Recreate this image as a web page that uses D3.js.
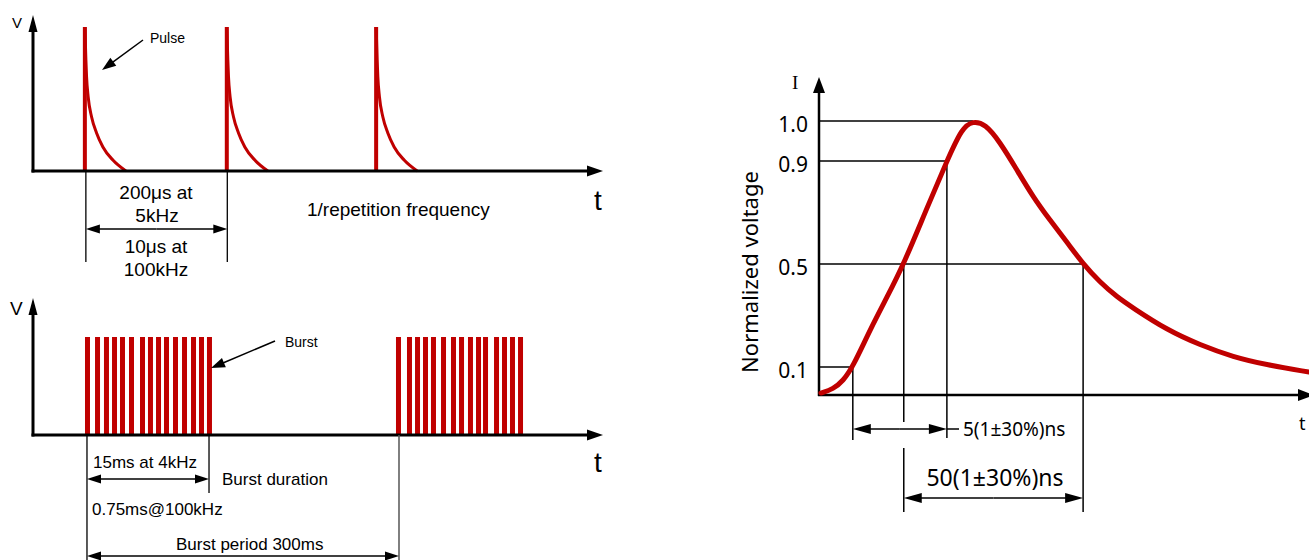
<!DOCTYPE html>
<html>
<head>
<meta charset="utf-8">
<script src="https://cdn.jsdelivr.net/npm/d3@7/dist/d3.min.js"></script>
<style>
  body { margin: 0; background: #fff; }
  text { fill: #000; }
</style>
</head>
<body>
<svg id="chart" width="1309" height="560"></svg>
<script>
// ---- data (arbitrary time units, voltages normalized 0..1) ----
// top panel: repetitive pulses
const pulseStarts = [9.1, 34.0, 60.2];
const pulseTailT = [0, 0.18, 0.30, 0.58, 1.18, 2.05, 3.16, 4.91, 7.2];
const pulseTailV = [1, 0.771, 0.653, 0.514, 0.375, 0.264, 0.167, 0.076, 0];

// bottom panel: two bursts of pulses
const burst1 = [9.56, 11.32, 12.89, 14.30, 15.70, 17.28, 19.21, 20.61, 22.02, 23.42, 25.0, 26.58, 28.16, 29.56, 30.96];
const burst2 = [64.12, 66.05, 67.46, 68.86, 70.26, 72.02, 73.77, 75.18, 76.75, 78.16, 79.39, 81.32, 82.72, 84.12, 85.53];
const burstMarks = [9.47, 30.88, 64.21];   // burst start, burst end, next burst

// right panel: single pulse waveform
const waveT = [0.4, 2.9, 4.9, 6.9, 10.4, 13.9, 17.3, 21.6, 26.1, 29.2, 31.4, 33.9, 36.9, 40.4, 43.7, 47.1, 50.6, 53.9, 57.3, 60.8, 64.1, 71.0, 77.8, 84.5, 91.4, 100];
const waveV = [0.007, 0.021, 0.05, 0.1, 0.244, 0.372, 0.5, 0.698, 0.9, 0.983, 1.0, 0.993, 0.948, 0.865, 0.76, 0.671, 0.585, 0.5, 0.43, 0.372, 0.329, 0.244, 0.185, 0.139, 0.108, 0.082];
const levelTicks = [1.0, 0.9, 0.5, 0.1];
const levelLabels = ["1.0", "0.9", "0.5", "0.1"];
const levelT = [31.4, 26.1, 53.9, 6.9];      // where each level line meets the curve
const t10 = 6.9, t90 = 26.1, t50a = 17.3, t50b = 53.9;

const red = "#c00000";
const sans = "'Liberation Sans', Arial, sans-serif";
const noto = "'Noto Sans', sans-serif";

const svg = d3.select("#chart");

// filled arrow head with its tip at (x2,y2), line from (x1,y1) to the head base
function arrow(g, x1, y1, x2, y2, len, half, w, color) {
  color = color || "#000";
  const a = Math.atan2(y2 - y1, x2 - x1);
  const bx = x2 - Math.cos(a) * len, by = y2 - Math.sin(a) * len;
  g.append("line").attr("x1", x1).attr("y1", y1).attr("x2", bx + Math.cos(a)).attr("y2", by + Math.sin(a))
    .attr("stroke", color).attr("stroke-width", w);
  const px = -Math.sin(a) * half, py = Math.cos(a) * half;
  g.append("path")
    .attr("d", `M${x2},${y2}L${bx + px},${by + py}L${bx - px},${by - py}Z`)
    .attr("fill", color);
}
function dimension(g, xa, xb, y, len, half, w) {
  const m = (xa + xb) / 2;
  arrow(g, m, y, xa, y, len, half, w);
  arrow(g, m, y, xb, y, len, half, w);
}
function vline(g, x, y1, y2, w, color) {
  g.append("line").attr("x1", x).attr("x2", x).attr("y1", y1).attr("y2", y2)
    .attr("stroke", color || "#000").attr("stroke-width", w);
}
function label(g, txt, x, y, size, family, anchor) {
  return g.append("text").attr("x", x).attr("y", y).text(txt)
    .attr("font-size", size + "px").attr("font-family", family)
    .attr("text-anchor", anchor || "start");
}

// ================= top panel =================
const gTop = svg.append("g");
const xTop = d3.scaleLinear().domain([0, 100]).range([33, 603]);
const yTop = d3.scaleLinear().domain([0, 1]).range([171, 27]);

const tail = d3.line().curve(d3.curveMonotoneX);
pulseStarts.forEach(s => {
  vline(gTop, xTop(s), yTop(0), yTop(1), 4, red);
  gTop.append("path")
    .attr("d", tail(pulseTailT.map((t, i) => [xTop(s + t), yTop(pulseTailV[i])])))
    .attr("fill", "none").attr("stroke", red).attr("stroke-width", 3);
});

arrow(gTop, xTop(0), yTop(0) + 1.5, xTop(0), 15, 17, 4.5, 3);
arrow(gTop, xTop(0) - 1.5, yTop(0), 603, yTop(0), 16, 5.5, 3);
label(gTop, "V", 12, 28, 15, sans);
label(gTop, "t", 594, 210, 28, sans);

vline(gTop, xTop(pulseStarts[0]) + 1, yTop(0), 262, 1.3);
vline(gTop, xTop(pulseStarts[1]) + 0.5, yTop(0), 262, 1.3);
dimension(gTop, xTop(pulseStarts[0]) + 1, xTop(pulseStarts[1]) + 0.5, 229, 14, 4.5, 1.5);

label(gTop, "200μs at", 156, 199, 19, sans, "middle");
label(gTop, "5kHz", 157, 222, 19, sans, "middle");
label(gTop, "10μs at", 156, 253, 19, sans, "middle");
label(gTop, "100kHz", 156, 276, 19, sans, "middle");
label(gTop, "1/repetition frequency", 307, 216, 19, sans);

label(gTop, "Pulse", 150, 43, 14, sans);
arrow(gTop, 143, 40, 102, 70, 14, 5, 1.5);

// ================= bottom panel =================
const gBot = svg.append("g");
const xBot = d3.scaleLinear().domain([0, 100]).range([33, 603]);
const yBot = d3.scaleLinear().domain([0, 1]).range([435, 337]);
const barW = 5;

gBot.selectAll("rect.bar")
  .data(burst1.concat(burst2))
  .enter().append("rect")
  .attr("class", "bar")
  .attr("x", d => xBot(d) - barW / 2)
  .attr("y", yBot(1))
  .attr("width", barW)
  .attr("height", yBot(0) - yBot(1))
  .attr("fill", red);

arrow(gBot, xBot(0), yBot(0) + 1.5, xBot(0), 298, 17, 4.5, 3);
arrow(gBot, xBot(0) - 1.5, yBot(0), 603, yBot(0), 16, 5.5, 3);
label(gBot, "V", 10, 315, 19, sans);
label(gBot, "t", 594, 472, 28, sans);

vline(gBot, xBot(burstMarks[0]), yBot(0), 560, 1.3);
vline(gBot, xBot(burstMarks[1]), yBot(0), 493, 1.3);
vline(gBot, xBot(burstMarks[2]), yBot(0), 560, 1.5, "#555");
dimension(gBot, xBot(burstMarks[0]), xBot(burstMarks[1]), 479, 14, 4.5, 1.5);
dimension(gBot, xBot(burstMarks[0]), xBot(burstMarks[2]), 556, 14, 4.5, 1.5);

label(gBot, "15ms at 4kHz", 93, 468, 17, sans);
label(gBot, "Burst duration", 222, 485, 17, sans);
label(gBot, "0.75ms@100kHz", 92, 515, 17, sans);
label(gBot, "Burst period 300ms", 176, 550, 17, sans);

label(gBot, "Burst", 285, 347, 14, sans);
arrow(gBot, 275, 341, 211, 368, 14, 5, 1.5);

// ================= right panel =================
const gR = svg.append("g");
const xR = d3.scaleLinear().domain([0, 100]).range([819, 1309]);
const yR = d3.scaleLinear().domain([0, 0.1, 0.5, 0.9, 1.0]).range([395, 367, 264, 161, 121]);

// level guide lines
levelTicks.forEach((v, i) => {
  gR.append("line").attr("x1", xR(0)).attr("x2", xR(levelT[i]))
    .attr("y1", yR(v)).attr("y2", yR(v))
    .attr("stroke", "#000").attr("stroke-width", 1.5);
  label(gR, levelLabels[i], 808, yR(v) + 11, 21, noto, "end");
});
vline(gR, xR(t10), yR(0.1), 440, 1.5);
vline(gR, xR(t90), yR(0.9), 438, 1.5);
vline(gR, xR(t50a), yR(0.5), 422, 1.5);
vline(gR, xR(t50a), 448, 512, 1.5);
vline(gR, xR(t50b), yR(0.5), 512, 1.5);

dimension(gR, xR(t10), xR(t90), 429, 18, 5, 1.5);
gR.append("line").attr("x1", xR(t90)).attr("x2", 959).attr("y1", 429).attr("y2", 429)
  .attr("stroke", "#000").attr("stroke-width", 1.5);
label(gR, "5(1±30%)ns", 963, 436, 19, noto);

dimension(gR, xR(t50a), xR(t50b), 498, 18, 5, 1.5);
label(gR, "50(1±30%)ns", 995, 486, 23, noto, "middle");

// axes
arrow(gR, xR(0), yR(0) + 1, xR(0), 77, 16, 6, 2.5);
arrow(gR, xR(0) - 1, yR(0), 1314, yR(0), 16, 6, 2.5);
label(gR, "I", 792, 89, 19, "'Liberation Serif', serif");
label(gR, "t", 1299, 430, 18, noto);
label(gR, "Normalized voltage", 0, 0, 22, noto, "middle")
  .attr("transform", "translate(758,272) rotate(-90)");

// waveform
gR.append("path")
  .attr("d", d3.line().curve(d3.curveBasis)(waveT.map((t, i) => [xR(t), yR(waveV[i])])))
  .attr("fill", "none").attr("stroke", red).attr("stroke-width", 5)
  .attr("stroke-linecap", "round");
</script>
</body>
</html>
